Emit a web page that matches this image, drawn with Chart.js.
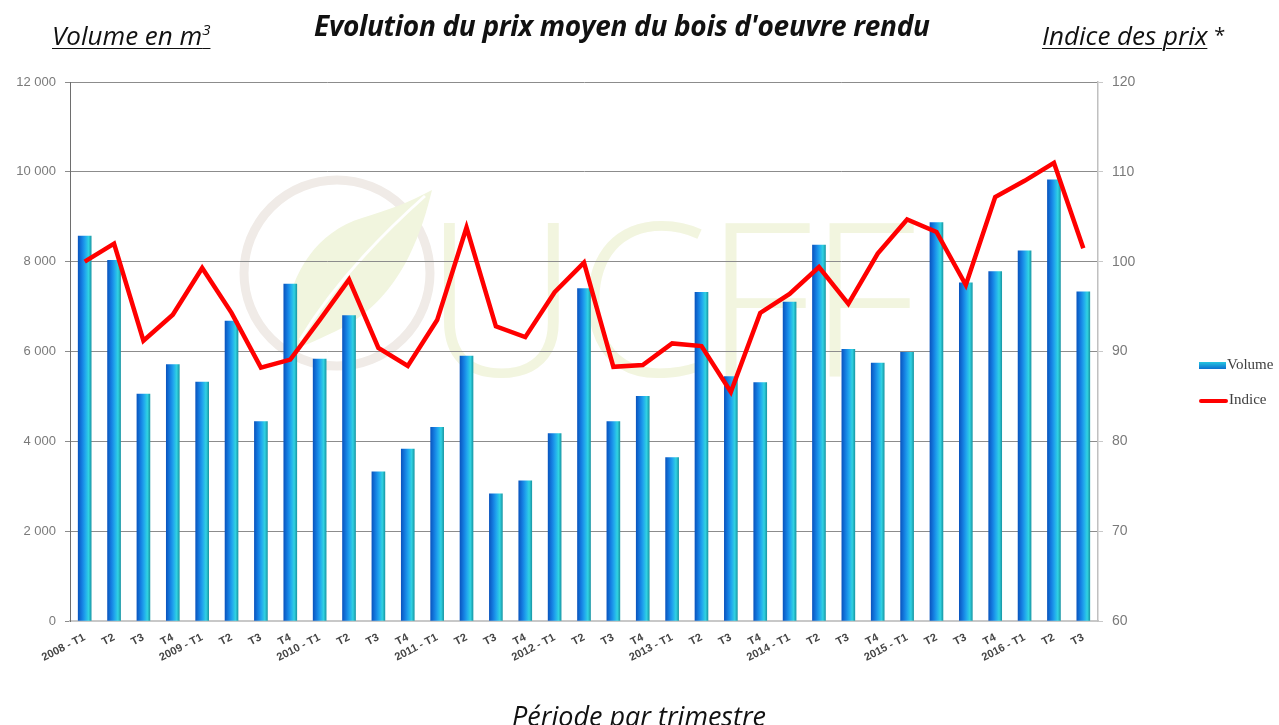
<!DOCTYPE html>
<html lang="fr">
<head>
<meta charset="utf-8">
<title>Evolution du prix moyen du bois d'oeuvre rendu</title>
<script src="https://cdn.jsdelivr.net/npm/chart.js@4.4.1/dist/chart.umd.min.js"></script>
<style>
  html, body { margin: 0; padding: 0; background: #fff; }
  #wrap { position: relative; width: 1279px; height: 725px; overflow: hidden; font-family: 'Open Sans', Lato, sans-serif; }
  #chart { position: absolute; left: 0; top: 0; }
  .lbl { position: absolute; white-space: nowrap; color: #111; font-style: italic; }
  .ul { text-decoration: underline; text-decoration-thickness: 1px; text-underline-offset: 3px; }
  #title { left: 314px; top: 6px; font-size: 28px; font-weight: 700; letter-spacing: -0.3px; }
  #yl { left: 52px; top: 17px; font-size: 26px; }
  #yr { left: 1042px; top: 17px; font-size: 26px; }
  #yr .star { font-style: normal; font-size: 20px; position: relative; top: -3px; }
  #xt { left: 512px; top: 697px; font-size: 27px; }
  .legend { position: absolute; left: 1199px; font-family: 'Liberation Serif', serif; font-size: 15px; color: #404040; }
  .legend span.sw { display: inline-block; vertical-align: middle; margin-right: 1px; }
  #wm { position: absolute; left: 0; top: 0; }
  #wmtext { position: absolute; left: 424px; top: 146px; font-family: 'Open Sans', sans-serif; font-weight: 300; font-size: 215px; color: #f2f5df; letter-spacing: -4px; }
</style>
</head>
<body>
<div id="wrap">
  <svg id="wm" width="1279" height="725">
    <circle cx="337" cy="273" r="93" fill="none" stroke="#f0ebe7" stroke-width="9"/>
    <path d="M 290 350 C 276 300 305 235 362 218 C 388 210 408 203 432 190 C 420 240 398 298 342 328 C 322 338 305 346 290 350 Z" fill="#f1f5de"/>
    <path d="M 300 340 C 330 290 370 245 425 196" fill="none" stroke="#fff" stroke-width="3"/>
  </svg>
  <div id="wmtext">UCFF</div>
  <canvas id="chart" width="1279" height="725"></canvas>
  <div class="lbl" id="title">Evolution du prix moyen du bois d'oeuvre rendu</div>
  <div class="lbl ul" id="yl">Volume en m<sup style="font-size:15px">3</sup></div>
  <div class="lbl" id="yr"><span class="ul">Indice des prix</span> <span class="star">*</span></div>
  <div class="lbl ul" id="xt">Période par trimestre</div>
  <div class="legend" style="top:356px"><span class="sw" style="width:27px;height:7px;background:linear-gradient(#26c6e0,#0b6fd0)"></span>Volume</div>
  <div class="legend" style="top:391px"><span class="sw" style="width:29px;height:4px;background:#ff0000;border-radius:2px"></span>Indice</div>
</div>
<script>
const periods = [
  '2008 - T1', 'T2', 'T3', 'T4',
  '2009 - T1', 'T2', 'T3', 'T4',
  '2010 - T1', 'T2', 'T3', 'T4',
  '2011 - T1', 'T2', 'T3', 'T4',
  '2012 - T1', 'T2', 'T3', 'T4',
  '2013 - T1', 'T2', 'T3', 'T4',
  '2014 - T1', 'T2', 'T3', 'T4',
  '2015 - T1', 'T2', 'T3', 'T4',
  '2016 - T1', 'T2', 'T3'
];

// volume en m3
const volume = [
  8570, 8030, 5050, 5710,
  5320, 6680, 4440, 7500,
  5830, 6800, 3320, 3830,
  4310, 5900, 2830, 3120,
  4170, 7400, 4440, 5000,
  3640, 7320, 5440, 5310,
  7100, 8370, 6050, 5740,
  5980, 8870, 7530, 7780,
  8240, 9820, 7330
];

// indice des prix
const indice = [
  100.0, 102.0, 91.2, 94.1,
  99.3, 94.3, 88.2, 89.1,
  93.5, 98.0, 90.4, 88.4,
  93.5, 103.8, 92.8, 91.6,
  96.6, 99.9, 88.3, 88.5,
  90.9, 90.6, 85.5, 94.3,
  96.4, 99.4, 95.3, 100.9,
  104.7, 103.3, 97.4, 107.2,
  109.0, 111.0, 101.5
];

const volumeTicks = [0, 2000, 4000, 6000, 8000, 10000, 12000];
const indiceTicks = [60, 70, 80, 90, 100, 110, 120];

const BAR_W = 13;

function barFill(context) {
  const chart = context.chart;
  if (!chart.chartArea) return '#1a8fe0';
  const x = chart.scales.x.getPixelForValue(context.dataIndex);
  const g = chart.ctx.createLinearGradient(x - BAR_W / 2, 0, x + BAR_W / 2, 0);
  g.addColorStop(0, '#0a56c0');
  g.addColorStop(0.3, '#1580e2');
  g.addColorStop(0.55, '#21a8ee');
  g.addColorStop(0.8, '#30d2e2');
  g.addColorStop(1, '#1a9aa8');
  return g;
}

function spaced(v) {
  if (v < 1000) return String(v);
  return Math.floor(v / 1000) + ' ' + String(v % 1000).padStart(3, '0');
}

new Chart(document.getElementById('chart'), {
  data: {
    labels: periods,
    datasets: [
      {
        type: 'line', label: 'Indice', data: indice, yAxisID: 'y1', order: 0,
        borderColor: '#ff0000', borderWidth: 4.5, pointRadius: 0, tension: 0,
        borderJoinStyle: 'miter'
      },
      {
        type: 'bar', label: 'Volume', data: volume, yAxisID: 'y', order: 1,
        backgroundColor: barFill, barThickness: BAR_W, borderWidth: 0
      }
    ]
  },
  options: {
    responsive: false,
    animation: false,
    events: [],
    layout: { padding: { left: 0, right: 131, top: 82, bottom: 44 } },
    plugins: { legend: { display: false }, tooltip: { enabled: false } },
    scales: {
      x: {
        grid: { display: false },
        border: { color: '#c8c8c8', width: 2 },
        ticks: {
          color: '#454545', font: { family: 'Liberation Sans', size: 11, weight: 'bold' },
          minRotation: 27, maxRotation: 27, autoSkip: false, padding: 2
        },
        afterFit: (s) => { s.height = 60; }
      },
      y: {
        position: 'left', min: 0, max: 12000,
        afterBuildTicks: (s) => { s.ticks = volumeTicks.map((v) => ({ value: v })); },
        grid: { color: '#8c8c8c', lineWidth: 1, tickLength: 5 },
        border: { color: '#6e6e6e', width: 1 },
        ticks: { color: '#7a7a7a', font: { family: 'Liberation Sans', size: 13 }, padding: 9, callback: (v) => spaced(v) },
        afterFit: (s) => { s.width = 70; }
      },
      y1: {
        position: 'right', min: 60, max: 120,
        afterBuildTicks: (s) => { s.ticks = indiceTicks.map((v) => ({ value: v })); },
        grid: { drawOnChartArea: false, color: '#c8c8c8', tickLength: 5 },
        border: { color: '#c0c0c0', width: 1.5 },
        ticks: { color: '#7a7a7a', font: { family: 'Liberation Sans', size: 14 }, padding: 9 },
        afterFit: (s) => { s.width = 50; }
      }
    }
  }
});
</script>
</body>
</html>
